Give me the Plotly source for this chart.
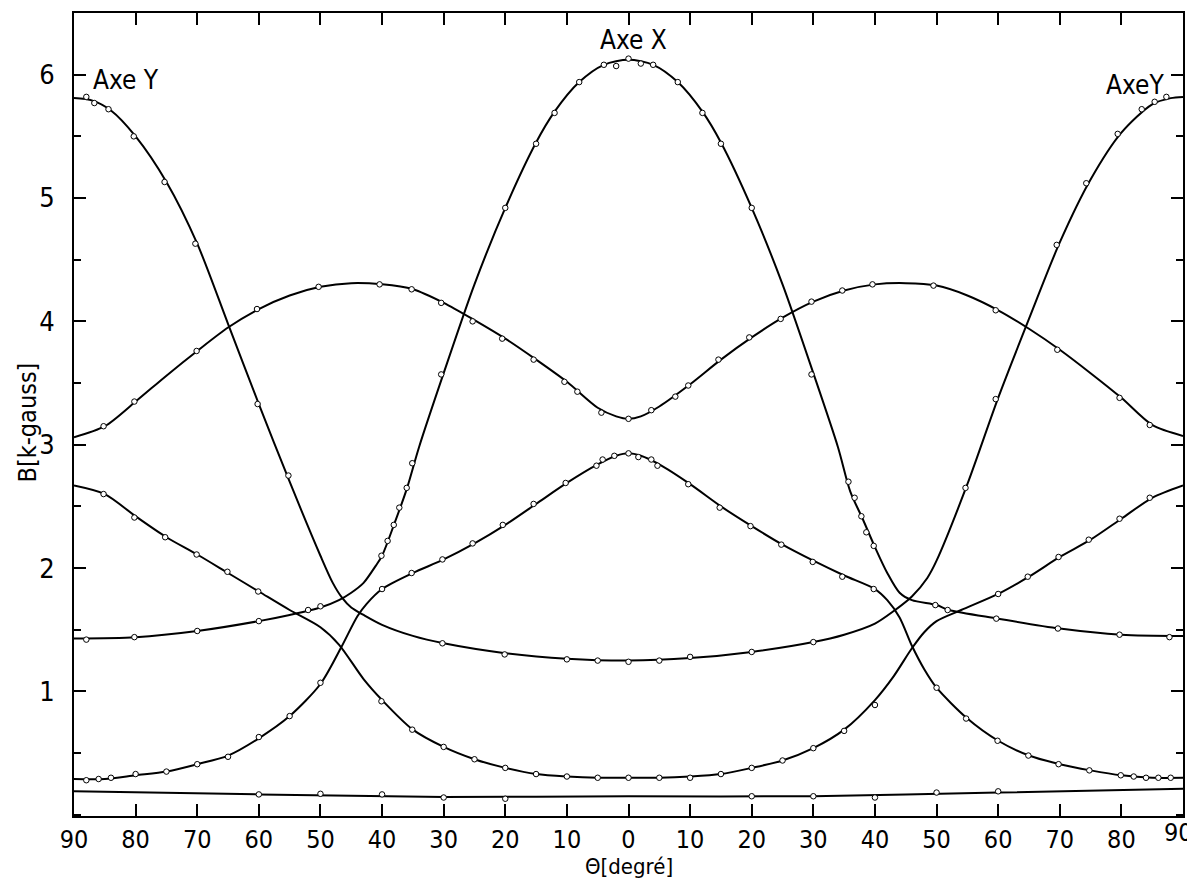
import plotly.graph_objects as go

# ---------------- data (theta in degrees, signed: left half negative) ----------------
# Curve "Axe Y" (5.8 at +-90, minimum ~1.25 at 0)
axeY_theta = [-90, -87, -84, -80, -75, -70, -65, -60, -55, -50, -48, -46.5, -45, -43, -40, -35, -30, -20, -10,
              0, 10, 20, 30, 35, 40, 43, 46, 48.5, 50, 55, 60, 65, 70, 75, 80, 85, 88, 90]
axeY_b = [5.81, 5.79, 5.71, 5.50, 5.13, 4.63, 3.98, 3.33, 2.70, 2.10, 1.88, 1.76, 1.68, 1.62, 1.54, 1.45, 1.39, 1.31, 1.265,
          1.25, 1.27, 1.32, 1.40, 1.46, 1.55, 1.65, 1.77, 1.92, 2.06, 2.68, 3.38, 4.02, 4.64, 5.15, 5.53, 5.76, 5.81, 5.82]
axeY_pts_theta = [-88, -86.7, -84.4, -80.3, -75.3, -70.3, -60.2, -55.2, -30.2, -20.1, -10, -5, 0, 5, 10, 20, 30,
                  54.7, 59.6, 69.5, 74.3, 79.4, 83.3, 85.4, 87.3]
axeY_pts_b = [5.82, 5.77, 5.72, 5.50, 5.13, 4.63, 3.33, 2.75, 1.39, 1.30, 1.26, 1.25, 1.24, 1.25, 1.28, 1.32, 1.40,
              2.65, 3.37, 4.62, 5.12, 5.52, 5.72, 5.78, 5.82]

# Curve "Axe X" (6.12 at 0, ~1.45 at +-90)
axeX_theta = [-90, -80, -70, -60, -55, -50, -47, -45, -43, -41, -40, -38, -36, -34, -30, -25, -20, -15, -12, -8, -4,
              0, 4, 8, 12, 15, 20, 25, 30, 34, 36, 38, 40, 42, 44, 46, 50, 52, 60, 70, 80, 90]
axeX_b = [1.43, 1.44, 1.49, 1.57, 1.62, 1.68, 1.74, 1.80, 1.88, 2.02, 2.10, 2.36, 2.64, 2.98, 3.58, 4.30, 4.92, 5.45, 5.70, 5.94, 6.08,
          6.12, 6.08, 5.94, 5.70, 5.45, 4.92, 4.30, 3.58, 2.98, 2.62, 2.40, 2.17, 1.96, 1.80, 1.74, 1.70, 1.66, 1.59, 1.51, 1.46, 1.45]
axeX_pts_theta = [-88, -80.2, -70, -60, -52, -50, -40.1, -39.1, -38.1, -37.2, -36, -35.1, -30.4, -20, -15, -12, -8, -4, -2,
                  0, 2, 4, 8, 12, 15, 20, 29.7, 35.7, 36.7, 37.8, 38.6, 39.8, 49.8, 51.8, 59.7, 69.7, 79.7, 87.8]
axeX_pts_b = [1.42, 1.44, 1.49, 1.57, 1.66, 1.69, 2.10, 2.22, 2.35, 2.49, 2.65, 2.85, 3.57, 4.92, 5.44, 5.69, 5.94, 6.08, 6.07,
              6.13, 6.09, 6.08, 5.94, 5.69, 5.44, 4.92, 3.57, 2.70, 2.57, 2.42, 2.29, 2.18, 1.70, 1.66, 1.59, 1.51, 1.46, 1.44]

# Curve with the two humps (4.3 near +-45, 3.2 at 0)
hump_theta = [-90, -85, -80, -75, -70, -65, -60, -55, -50, -45, -40, -35, -30, -25, -20, -15, -10, -5, -2,
              0, 2, 5, 10, 15, 20, 25, 30, 35, 40, 45, 50, 55, 60, 65, 70, 75, 80, 85, 90]
hump_b = [3.06, 3.15, 3.35, 3.56, 3.76, 3.95, 4.10, 4.21, 4.28, 4.31, 4.30, 4.26, 4.15, 4.01, 3.86, 3.69, 3.51, 3.30, 3.23,
          3.21, 3.23, 3.31, 3.49, 3.69, 3.87, 4.03, 4.16, 4.25, 4.30, 4.31, 4.29, 4.21, 4.09, 3.94, 3.77, 3.58, 3.38, 3.16, 3.07]
hump_pts_theta = [-85.2, -80.2, -70.1, -60.3, -50.3, -40.4, -35.2, -30.4, -25.3, -20.5, -15.4, -10.4, -8.3, -4.4,
                  0, 3.7, 7.6, 9.7, 14.6, 19.6, 24.7, 29.7, 34.7, 39.6, 49.5, 59.6, 69.6, 79.7, 84.6]
hump_pts_b = [3.15, 3.35, 3.76, 4.10, 4.28, 4.30, 4.26, 4.15, 4.00, 3.86, 3.69, 3.51, 3.43, 3.26,
              3.21, 3.28, 3.39, 3.48, 3.69, 3.87, 4.02, 4.16, 4.25, 4.30, 4.29, 4.09, 3.77, 3.38, 3.16]

# Curve 2.67 at +-90 down to 0.30 at 0
low_theta = [-90, -85, -80, -75, -70, -65, -60, -55, -50, -47, -43, -40, -35, -30, -25, -20, -15, -10, -5,
             0, 5, 10, 15, 20, 25, 30, 35, 40, 43, 46, 48, 50, 54, 60, 65, 70, 75, 80, 85, 90]
low_b = [2.67, 2.60, 2.42, 2.25, 2.11, 1.96, 1.81, 1.66, 1.52, 1.38, 1.10, 0.93, 0.69, 0.55, 0.45, 0.38, 0.33, 0.31, 0.30,
         0.30, 0.30, 0.31, 0.33, 0.38, 0.44, 0.54, 0.69, 0.93, 1.12, 1.35, 1.48, 1.57, 1.66, 1.79, 1.93, 2.09, 2.23, 2.40, 2.57, 2.67]
low_pts_theta = [-85.2, -80.2, -75.2, -70.1, -65.1, -60.1, -40.1, -35.1, -30, -25, -20, -15, -10, -5,
                 0, 5, 10, 15, 20, 25, 30, 35, 40, 60, 64.8, 69.8, 74.7, 79.7, 84.6]
low_pts_b = [2.60, 2.41, 2.25, 2.11, 1.97, 1.81, 0.92, 0.69, 0.55, 0.45, 0.38, 0.33, 0.31, 0.30,
             0.30, 0.30, 0.30, 0.33, 0.38, 0.44, 0.54, 0.68, 0.89, 1.79, 1.93, 2.09, 2.23, 2.40, 2.57]

# Curve 0.29 at +-90 up to 2.93 at 0
mid_theta = [-90, -85, -80, -75, -70, -65, -60, -55, -50, -46.6, -44, -42.5, -40, -35, -30, -25, -20, -15, -10, -5, -2,
             0, 2, 5, 10, 15, 20, 25, 30, 35, 40, 42, 44, 46, 48, 50, 55, 60, 65, 70, 75, 80, 85, 90]
mid_b = [0.29, 0.29, 0.32, 0.35, 0.41, 0.48, 0.62, 0.80, 1.06, 1.36, 1.61, 1.71, 1.83, 1.96, 2.07, 2.20, 2.35, 2.52, 2.69, 2.84, 2.91,
         2.93, 2.91, 2.84, 2.68, 2.50, 2.34, 2.19, 2.06, 1.94, 1.83, 1.74, 1.60, 1.37, 1.18, 1.03, 0.78, 0.60, 0.48, 0.41, 0.36, 0.32, 0.30, 0.30]
mid_pts_theta = [-88, -86, -84, -80, -75, -70, -65, -60, -55, -50, -40, -35.2, -30.2, -25.3, -20.4, -15.4, -10.2, -5.2, -4.2, -2.3,
                 0, 1.6, 3.7, 4.7, 9.7, 14.8, 19.8, 24.8, 29.9, 34.7, 39.8, 50, 54.8, 59.9, 64.9, 69.8, 74.8, 79.9, 82, 84, 86, 88]
mid_pts_b = [0.28, 0.29, 0.30, 0.33, 0.35, 0.41, 0.47, 0.63, 0.80, 1.07, 1.83, 1.96, 2.07, 2.20, 2.35, 2.52, 2.69, 2.83, 2.88, 2.91,
             2.93, 2.90, 2.88, 2.83, 2.68, 2.49, 2.34, 2.19, 2.05, 1.93, 1.83, 1.03, 0.78, 0.60, 0.48, 0.41, 0.36, 0.32, 0.31, 0.30, 0.30, 0.30]

# Bottom, almost flat curve
base_theta = [-90, -60, -30, 0, 30, 60, 90]
base_b = [0.19, 0.165, 0.145, 0.15, 0.15, 0.18, 0.21]
base_pts_theta = [-60, -50, -40, -30, -20, 20, 30, 40, 50, 60]
base_pts_b = [0.165, 0.17, 0.165, 0.14, 0.13, 0.15, 0.15, 0.14, 0.18, 0.19]

x_tickvals = list(range(-90, 91, 10))
x_ticktext = [str(abs(v)) for v in x_tickvals]
edge_label = x_ticktext[-1]   # rightmost label drawn as an annotation so it stays on the page
x_ticktext[-1] = ""
y_tickvals = [1, 2, 3, 4, 5, 6]
y_ticktext = ["1", "2", "3", "4", "5", "6"]

# ---------------- figure ----------------
FONT = "DejaVu Sans Condensed, Liberation Sans Narrow, Arial Narrow, DejaVu Sans, sans-serif"
fig = go.Figure()

curves = [(axeY_theta, axeY_b, axeY_pts_theta, axeY_pts_b),
          (axeX_theta, axeX_b, axeX_pts_theta, axeX_pts_b),
          (hump_theta, hump_b, hump_pts_theta, hump_pts_b),
          (low_theta, low_b, low_pts_theta, low_pts_b),
          (mid_theta, mid_b, mid_pts_theta, mid_pts_b),
          (base_theta, base_b, base_pts_theta, base_pts_b)]

for cx, cy, px, py in curves:
    fig.add_trace(go.Scatter(x=cx, y=cy, mode="lines",
                             line=dict(color="black", width=2, shape="spline", smoothing=0.8),
                             hoverinfo="skip", showlegend=False))
for cx, cy, px, py in curves:
    fig.add_trace(go.Scatter(x=px, y=py, mode="markers",
                             marker=dict(symbol="circle", size=5.5, color="white",
                                         line=dict(color="black", width=1)),
                             showlegend=False))

fig.add_annotation(x=-87.2, y=5.96, text="Axe Y", showarrow=False, xanchor="left", yanchor="middle",
                   font=dict(family=FONT, size=26, color="black"))
fig.add_annotation(x=0.8, y=6.28, text="Axe X", showarrow=False, xanchor="center", yanchor="middle",
                   font=dict(family=FONT, size=26, color="black"))
fig.add_annotation(x=87.3, y=5.92, text="AxeY", showarrow=False, xanchor="right", yanchor="middle",
                   font=dict(family=FONT, size=26, color="black"))
# rightmost x tick label
fig.add_annotation(x=1.0095, y=-0.021, xref="paper", yref="paper", text=edge_label, showarrow=False,
                   xanchor="right", yanchor="middle", borderpad=0,
                   font=dict(family=FONT, size=25, color="black"))
# axis titles placed explicitly
fig.add_annotation(x=0.5, y=-0.063, xref="paper", yref="paper", text="Θ[degré]", showarrow=False,
                   xanchor="center", yanchor="middle", borderpad=0, font=dict(family=FONT, size=22, color="black"))
fig.add_annotation(x=-0.0415, y=0.49, xref="paper", yref="paper", text="B[k-gauss]", showarrow=False,
                   textangle=-90, xanchor="center", yanchor="middle", font=dict(family=FONT, size=25, color="black"))

# the page body has an 8 px margin, so the figure is 8 px smaller than the window
fig.update_layout(
    width=1187, height=873,
    margin=dict(l=66, r=12, t=5, b=65, autoexpand=False),
    paper_bgcolor="white", plot_bgcolor="white",
    font=dict(family=FONT, color="black"),
    showlegend=False,
)
fig.update_xaxes(
    range=[-90, 90], tickmode="array", tickvals=x_tickvals, ticktext=x_ticktext,
    ticks="inside", ticklen=12, tickwidth=1.5, tickcolor="black",
    showline=True, linecolor="black", linewidth=2, mirror="ticks",
    showgrid=False, zeroline=False, ticklabeloverflow="allow", automargin=False,
    tickfont=dict(family=FONT, size=25, color="black"),
)
fig.update_yaxes(
    range=[-0.01, 6.5], tickmode="array", tickvals=y_tickvals, ticktext=y_ticktext,
    ticks="inside", ticklen=12, tickwidth=1.5, tickcolor="black",
    minor=dict(tick0=0, dtick=0.5, ticks="inside", ticklen=7, tickwidth=1.5, tickcolor="black"),
    showline=True, linecolor="black", linewidth=2, mirror="ticks",
    showgrid=False, zeroline=False, automargin=False,
    tickfont=dict(family=FONT, size=27, color="black"),
    ticklabelstandoff=12,
)

fig.write_html("out.html")
